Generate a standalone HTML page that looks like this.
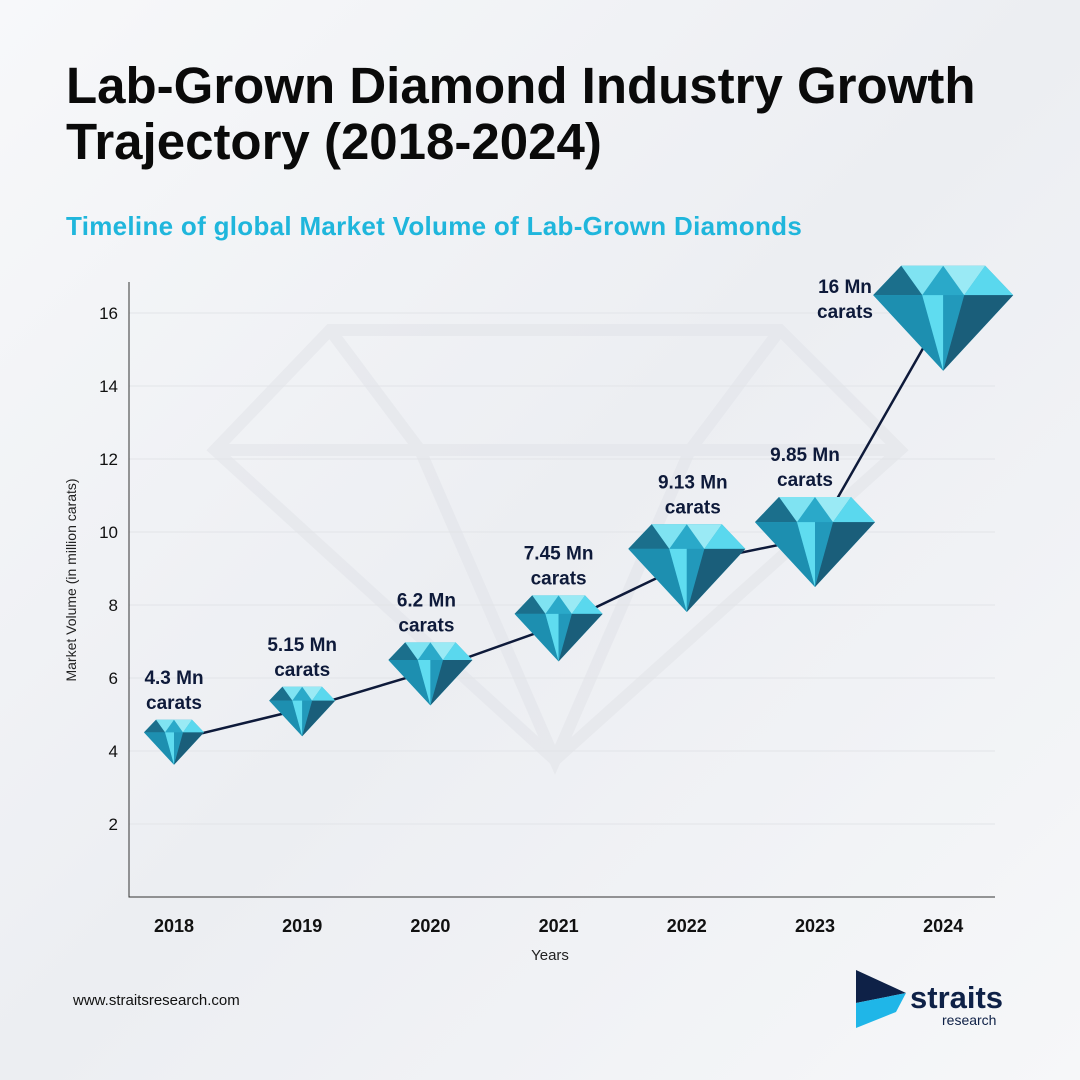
<!DOCTYPE html>
<html><head><meta charset="utf-8"><style>
body{margin:0;width:1080px;height:1080px;overflow:hidden;font-family:"Liberation Sans",sans-serif;background:#f3f4f7}
#root{position:relative;width:1080px;height:1080px;background:linear-gradient(135deg,#f7f8fa,#eceef2 50%,#f6f7f9)}
h1{position:absolute;left:66px;top:58px;margin:0;font-size:51px;line-height:56px;font-weight:700;color:#0a0a0a;letter-spacing:0px}
.sub{position:absolute;left:66px;top:211px;font-size:26px;font-weight:700;color:#1fb6dc;letter-spacing:0.3px}
.url{position:absolute;left:73px;top:992px;font-size:15px;color:#111}
</style></head><body>
<div id="root">
<h1>Lab-Grown Diamond Industry Growth<br>Trajectory (2018-2024)</h1>
<div class="sub">Timeline of global Market Volume of Lab-Grown Diamonds</div>
<svg id="chart" width="1080" height="1080" style="position:absolute;left:0;top:0">
 <g fill="none" stroke="#e3e5ea" stroke-width="12" opacity="0.6">
  <polygon points="330,330 780,330 900,450 555,760 215,450"/>
  <polyline points="215,450 900,450"/>
  <polyline points="330,330 420,450 555,760 690,450 780,330"/>
 </g>
 <g id="grid"></g><g id="axes"></g><g id="line"></g><g id="marks"></g><g id="labels"></g>
 <text x="550" y="960" font-size="15" text-anchor="middle" fill="#222">Years</text>
 <text transform="translate(76,580) rotate(-90)" font-size="14" text-anchor="middle" fill="#222">Market Volume (in million carats)</text>
 <g>
  <polygon points="856,970 906,993 856,1003" fill="#0e2147"/>
  <polygon points="856,1003 906,993 896,1012 856,1028" fill="#1fb6e8"/>
  <text x="910" y="1008" font-size="31" font-weight="700" fill="#0e2147">straits</text>
  <text x="942" y="1025" font-size="14" fill="#0e2147">research</text>
 </g>
</svg>
<div class="url">www.straitsresearch.com</div>
</div>
<script>
const years=["2018","2019","2020","2021","2022","2023","2024"];
const volumes=[4.3,5.15,6.2,7.45,9.13,9.85,16];
const valueLabels=["4.3 Mn","5.15 Mn","6.2 Mn","7.45 Mn","9.13 Mn","9.85 Mn","16 Mn"];
const yTicks=[2,4,6,8,10,12,14,16];
const NS="http://www.w3.org/2000/svg";
const x0=129,x1=995,yb=897,ppu=36.5;
const xs=i=>174+i*128.2;
const ys=v=>yb-v*ppu;
function el(t,a,p){const e=document.createElementNS(NS,t);for(const k in a)e.setAttribute(k,a[k]);document.getElementById(p).appendChild(e);return e;}
yTicks.forEach(t=>{
 const g=el('line',{x1:x0,x2:x1,y1:ys(t),y2:ys(t),stroke:'#e2e4e8','stroke-width':1},'grid');
 
 
 const l=el('text',{x:118,y:ys(t)+6,'font-size':17,'text-anchor':'end',fill:'#111'},'axes');
 l.textContent=t;
 
 
});
const ax=el('polyline',{points:`${x0},282 ${x0},${yb} ${x1},${yb}`,fill:'none',stroke:'#333','stroke-width':1},'axes');


years.forEach((y,i)=>{
 const t=el('text',{x:xs(i),y:932,'font-size':18,'font-weight':'bold','text-anchor':'middle',fill:'#111'},'axes');
 t.textContent=y;
 
 
});
const ln=el('polyline',{points:volumes.map((v,i)=>xs(i)+','+ys(v)).join(' '),fill:'none',stroke:'#0e1a3a','stroke-width':2.5},'line');


const widths=[60,66,84,88,117,120,140];
const lblDx=[0,0,-4,0,6,-10,-42];
volumes.forEach((v,i)=>{
 const cx=xs(i),cy=ys(v),w=widths[i],h=w*0.75;
 const top=cy-0.45*h,gird=cy-0.17*h,bot=cy+0.55*h,L=cx-w/2,R=cx+w/2,tl=cx-w*0.3,tr=cx+w*0.3;
 const g=el('g',{},'marks');
 
 
 const P=(pts,f)=>{const p=document.createElementNS(NS,'polygon');p.setAttribute('points',pts.map(a=>a.join(',')).join(' '));p.setAttribute('fill',f);g.appendChild(p);};
 P([[tl,top],[tr,top],[R,gird],[cx,bot],[L,gird]],'#2aa9c9');
 P([[tl,top],[cx,top],[cx-w*0.15,gird]],'#7fe3f2');
 P([[cx,top],[tr,top],[cx+w*0.15,gird]],'#9aeaf5');
 P([[tl,top],[L,gird],[cx-w*0.15,gird]],'#1b6f8c');
 P([[tr,top],[R,gird],[cx+w*0.15,gird]],'#5ad8ee');
 P([[L,gird],[cx-w*0.15,gird],[cx,bot]],'#1d8fb0');
 P([[cx-w*0.15,gird],[cx,gird],[cx,bot]],'#5fdcf0');
 P([[cx,gird],[cx+w*0.15,gird],[cx,bot]],'#2299bb');
 P([[cx+w*0.15,gird],[R,gird],[cx,bot]],'#1a5e7a');
 const lx=cx+lblDx[i],ly=top-36;
 const t=el('text',{x:lx,y:ly,'font-size':19,'font-weight':'bold','text-anchor':'middle',fill:'#0e1a3a'},'labels');
 t.textContent=valueLabels[i];
 
 
 const t2=el('text',{x:lx,y:ly+25,'font-size':19,'font-weight':'bold','text-anchor':'middle',fill:'#0e1a3a'},'labels');
 t2.textContent='carats';
 
 
});
const lab=document.querySelectorAll('#labels text');
lab[12].setAttribute('y',ys(volumes[6])-20);lab[13].setAttribute('y',ys(volumes[6])+5);
lab[12].setAttribute('x',845);lab[13].setAttribute('x',845);
</script>
</body></html>
